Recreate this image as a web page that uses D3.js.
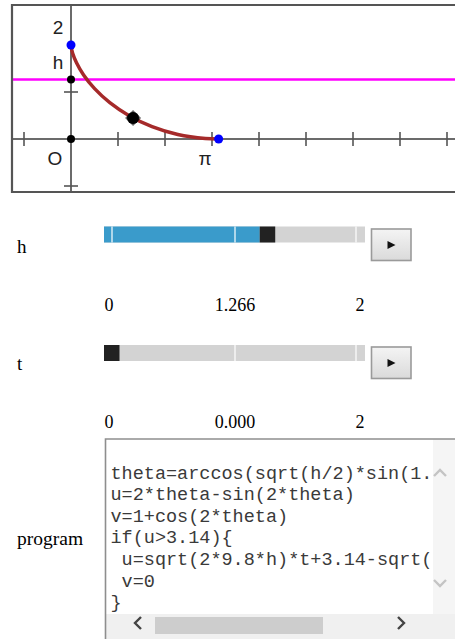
<!DOCTYPE html>
<html><head><meta charset="utf-8">
<script src="https://cdn.jsdelivr.net/npm/d3@7"></script>
<style>body{margin:0;background:#fff;overflow:hidden}svg{display:block}</style>
</head><body>
<script>
// ---- data ----
const curveU = [0, 0.0045, 0.035, 0.117, 0.268, 0.5025, 0.826, 1.237, 1.7245, 2.2726, 2.859, 3.1416];
const curveV = [2, 1.955, 1.825, 1.622, 1.362, 1.0707, 0.7728, 0.4951, 0.2626, 0.0959, 0.01, 0];
const hValue = 1.266;
const tValue = 0;
const movingPoint = [1.32, 0.447];
const endPoints = [[0, 2], [3.1416, 0]];
const xTicks = [-1, 1, 2, 3, 4, 5, 6, 7, 8];
const yTicks = [1, -1];
const sliderNames = ["h", "t"];
const sliderValues = [hValue, tValue];
const sliderLabels = [["0", "1.266", "2"], ["0", "0.000", "2"]];
const codeLines = [
  "",
  "theta=arccos(sqrt(h/2)*sin(1.",
  "u=2*theta-sin(2*theta)",
  "v=1+cos(2*theta)",
  "if(u>3.14){",
  " u=sqrt(2*9.8*h)*t+3.14-sqrt(",
  " v=0",
  "}"
];

const W = 455, H = 639;
const svg = d3.select("body").append("svg").attr("width", W).attr("height", H);

// ---- graph ----
const x = d3.scaleLinear().domain([0, 1]).range([71, 118]);
const y = d3.scaleLinear().domain([0, 1]).range([139, 92]);

const defs = svg.append("defs");
defs.append("clipPath").attr("id", "gclip").append("rect")
  .attr("x", 13).attr("y", 6).attr("width", W - 13).attr("height", 185);
defs.append("clipPath").attr("id", "cclip").append("rect")
  .attr("x", 106).attr("y", 440).attr("width", 327).attr("height", 174);
const grad = defs.append("linearGradient").attr("id", "btn").attr("x1", 0).attr("x2", 0).attr("y1", 0).attr("y2", 1);
grad.append("stop").attr("offset", "0").attr("stop-color", "#f4f4f4");
grad.append("stop").attr("offset", "1").attr("stop-color", "#dadada");

const g = svg.append("g").attr("clip-path", "url(#gclip)");
// axes
g.append("line").attr("x1", 12).attr("x2", W).attr("y1", y(0)).attr("y2", y(0))
  .attr("stroke", "#6b6b6b").attr("stroke-width", 2);
g.append("line").attr("x1", x(0)).attr("x2", x(0)).attr("y1", 5).attr("y2", 192)
  .attr("stroke", "#6b6b6b").attr("stroke-width", 2);
g.selectAll(".xt").data(xTicks).enter().append("line")
  .attr("x1", d => x(d)).attr("x2", d => x(d)).attr("y1", y(0) - 7).attr("y2", y(0) + 7)
  .attr("stroke", "#555").attr("stroke-width", 1.6);
g.selectAll(".yt").data(yTicks).enter().append("line")
  .attr("x1", x(0) - 7).attr("x2", x(0) + 7).attr("y1", d => y(d)).attr("y2", d => y(d))
  .attr("stroke", "#555").attr("stroke-width", 1.6);

// magenta line y = h
g.append("line").attr("x1", 12).attr("x2", W).attr("y1", y(hValue)).attr("y2", y(hValue))
  .attr("stroke", "#ff00ff").attr("stroke-width", 2.5);

// curve
const pts = curveU.map((u, i) => [u, curveV[i]]);
g.append("path").datum(pts)
  .attr("d", d3.line().x(d => x(d[0])).y(d => y(d[1])).curve(d3.curveCatmullRom))
  .attr("fill", "none").attr("stroke", "#a52a2a").attr("stroke-width", 3.5);

// points
g.selectAll(".bp").data([[0, 0], [0, hValue]]).enter().append("circle")
  .attr("cx", d => x(d[0])).attr("cy", d => y(d[1])).attr("r", 4).attr("fill", "#000");
g.selectAll(".ep").data(endPoints).enter().append("circle")
  .attr("cx", d => x(d[0])).attr("cy", d => y(d[1])).attr("r", 4.5).attr("fill", "#0000ff");
const mp = g.append("g").attr("transform", `translate(${x(movingPoint[0])},${y(movingPoint[1])})`);
mp.append("circle").attr("r", 6).attr("fill", "#000");
mp.append("path").attr("d", "M-8,0L0,-8L8,0L0,8Z").attr("fill", "#000").attr("opacity", 0.6);

// labels
const lab = (t, lx, ly) => g.append("text").attr("x", lx).attr("y", ly).text(t)
  .attr("font-family", "Arial, 'Liberation Sans', sans-serif").attr("font-size", 19)
  .attr("fill", "#222").attr("text-anchor", "middle");
lab("2", 58, 33.5);
lab("h", 58, 69);
lab("O", 55, 165);
lab("π", 205, 165);

// border
svg.append("path").attr("d", `M${W},5H12V192H${W}`).attr("fill", "none")
  .attr("stroke", "#555").attr("stroke-width", 2.2);

// ---- sliders ----
const sx = d3.scaleLinear().domain([0, 2]).range([104, 350]);
const serif = "'Times New Roman', 'Liberation Serif', serif";
const sliderTop = [226.5, 345];
const labelBase = [311, 428];
const nameBase = [253, 370];
const btnTop = [229, 347];
sliderNames.forEach((name, i) => {
  const sg = svg.append("g");
  const ty = sliderTop[i], val = sliderValues[i];
  sg.append("rect").attr("x", 104).attr("y", ty).attr("width", 261).attr("height", 16).attr("fill", "#d3d3d3");
  sg.append("rect").attr("x", 104).attr("y", ty).attr("width", sx(val) - 104).attr("height", 16).attr("fill", "#3a9bcb");
  [112, 235, 356].forEach(dx => sg.append("line").attr("x1", dx).attr("x2", dx)
    .attr("y1", ty).attr("y2", ty + 16).attr("stroke", "#fff").attr("stroke-width", 1.5).attr("opacity", 0.8));
  sg.append("rect").attr("x", sx(val)).attr("y", ty).attr("width", 15.5).attr("height", 16).attr("fill", "#222");
  sg.append("text").attr("x", 17).attr("y", nameBase[i]).text(name)
    .attr("font-family", serif).attr("font-size", 19).attr("fill", "#000");
  const lx = [109, 235, 360];
  sliderLabels[i].forEach((t, k) => sg.append("text").attr("x", lx[k]).attr("y", labelBase[i]).text(t)
    .attr("font-family", serif).attr("font-size", 18).attr("text-anchor", "middle").attr("fill", "#000"));
  // play button
  const by = btnTop[i];
  sg.append("rect").attr("x", 371.5).attr("y", by).attr("width", 39.5).attr("height", 31.5)
    .attr("fill", "url(#btn)").attr("stroke", "#9a9a9a").attr("stroke-width", 1.6);
  const cx = 391, cy = by + 16;
  sg.append("path").attr("d", `M${cx - 3.5},${cy - 4}L${cx + 4.5},${cy}L${cx - 3.5},${cy + 4}Z`).attr("fill", "#111");
});

// ---- program textarea ----
svg.append("text").attr("x", 17).attr("y", 545).text("program")
  .attr("font-family", serif).attr("font-size", 19.5).attr("fill", "#000");
svg.append("rect").attr("x", 433).attr("y", 439).attr("width", 22).attr("height", 176).attr("fill", "#f5f5f5");
svg.append("rect").attr("x", 106).attr("y", 614).attr("width", 349).attr("height", 25).attr("fill", "#f0f0f0");
svg.append("rect").attr("x", 155).attr("y", 617).attr("width", 168).attr("height", 17).attr("fill", "#cdcdcd");
const ch = (d, c) => svg.append("path").attr("d", d).attr("fill", "none").attr("stroke", c).attr("stroke-width", 2.4);
ch("M141,617L135,623L141,629", "#444");
ch("M398,617L404,623L398,629", "#444");
ch("M434,476L440,470L446,476", "#c4c4c4");
ch("M434,580L440,586L446,580", "#c4c4c4");
svg.append("path").attr("d", `M${W},439H105.5V${H}`).attr("fill", "none").attr("stroke", "#8e8e8e").attr("stroke-width", 1.6);

const cg = svg.append("g").attr("clip-path", "url(#cclip)");
cg.selectAll("text").data(codeLines).enter().append("text")
  .attr("x", 110.5).attr("y", (d, i) => 457 + i * 21.6)
  .attr("xml:space", "preserve").style("white-space", "pre")
  .attr("font-family", "'Courier New', 'Liberation Mono', monospace").attr("font-size", 18.5)
  .attr("fill", "#3a3a3a").text(d => d);
</script>
</body></html>
